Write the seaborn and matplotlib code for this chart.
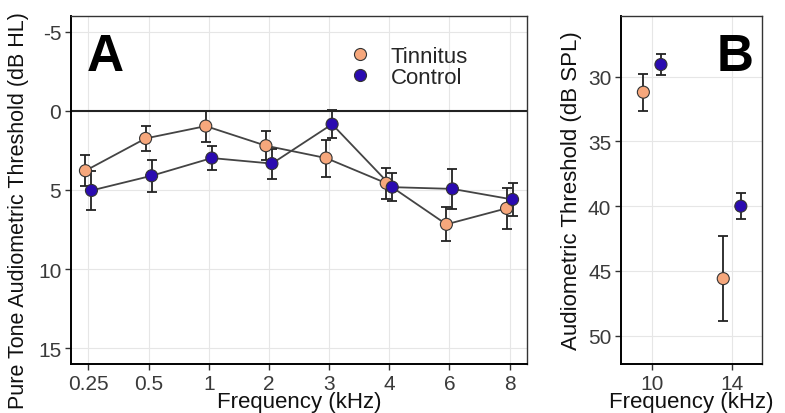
import numpy as np
import pandas as pd
import matplotlib
matplotlib.use("Agg")
import matplotlib.pyplot as plt
import seaborn as sns

# ---- data ----
freqs_a = ["0.25", "0.5", "1", "2", "3", "4", "6", "8"]
tinnitus_a = [3.78, 1.74, 0.96, 2.20, 2.98, 4.57, 7.17, 6.16]
tinnitus_a_se = [0.98, 0.80, 0.98, 0.90, 1.17, 0.97, 1.08, 1.30]
control_a = [5.03, 4.10, 2.98, 3.33, 0.84, 4.82, 4.93, 5.60]
control_a_se = [1.22, 1.00, 0.75, 0.95, 0.90, 0.88, 1.28, 1.02]

freqs_b = ["10", "14"]
tinnitus_b = [31.19, 45.60]
tinnitus_b_se = [1.44, 3.30]
control_b = [29.05, 40.00]
control_b_se = [0.80, 1.00]

groups = ["Tinnitus", "Control"]
colors = {"Tinnitus": "#F6A77C", "Control": "#2A0BB0"}

sns.set_theme(style="whitegrid")
plt.rcParams["font.family"] = ["Liberation Sans", "DejaVu Sans"]

fig = plt.figure(figsize=(7.85, 4.14), dpi=100)
axA = fig.add_axes([71 / 785, 49 / 414, 456 / 785, 348 / 414])
axB = fig.add_axes([621 / 785, 49 / 414, 141 / 785, 348 / 414])


def make_df(cats, t, tse, c, cse, dodge):
    rows = []
    for i, cat in enumerate(cats):
        rows.append(dict(cat=cat, idx=i, group="Tinnitus", mean=t[i], se=tse[i], x=i - dodge))
        rows.append(dict(cat=cat, idx=i, group="Control", mean=c[i], se=cse[i], x=i + dodge))
    return pd.DataFrame(rows)


dfA = make_df(freqs_a, tinnitus_a, tinnitus_a_se, control_a, control_a_se, 0.05)
dfB = make_df(freqs_b, tinnitus_b, tinnitus_b_se, control_b, control_b_se, 0.11)

tick_col = "#3A3A3A"


def style_axes(ax):
    ax.set_facecolor("white")
    ax.grid(True, color="#E6E6E6", linewidth=0.8)
    for s in ["top", "right"]:
        ax.spines[s].set_color("#333333")
        ax.spines[s].set_linewidth(1.0)
    for s in ["left", "bottom"]:
        ax.spines[s].set_color("black")
        ax.spines[s].set_linewidth(1.4)
    ax.tick_params(axis="both", which="major", length=4, width=1, color="#333333",
                   labelsize=15, labelcolor=tick_col, pad=3, left=True, bottom=True)


# ---- Panel A ----
style_axes(axA)
axA.axhline(0, color="#222222", linewidth=1.5, zorder=1.5)
sns.lineplot(data=dfA, x="x", y="mean", hue="group", hue_order=groups,
             palette={"Tinnitus": "#444444", "Control": "#444444"},
             linewidth=1.3, legend=False, ax=axA, zorder=2, sort=True)
for g in groups:
    d = dfA[dfA.group == g]
    axA.errorbar(d["x"], d["mean"], yerr=d["se"], fmt="none", ecolor="#222222",
                 elinewidth=1.3, capsize=3.3, capthick=1.3, zorder=3)
sns.scatterplot(data=dfA, x="x", y="mean", hue="group", hue_order=groups,
                palette=colors, s=75, edgecolor="#333333", linewidth=0.8,
                ax=axA, zorder=4)
axA.set_xlim(-0.29, 7.29)
axA.set_ylim(16.0, -6.0)
axA.set_xticks(range(len(freqs_a)))
axA.set_xticklabels(freqs_a)
axA.set_yticks([-5, 0, 5, 10, 15])
axA.set_yticklabels(["-5", "0", "5", "10", "15"])
axA.set_xlabel("Frequency (kHz)", fontsize=16, labelpad=-1, color="#111111")
axA.set_ylabel("Pure Tone Audiometric Threshold (dB HL)", fontsize=15.5,
               color="#111111")
axA.yaxis.set_label_coords(-0.092, 0.445)
h, l = axA.get_legend_handles_labels()
axA.legend(h, l, loc="upper left", bbox_to_anchor=(0.555, 0.953), frameon=False,
           fontsize=16, handletextpad=0.4, labelspacing=0.02, markerscale=1.0,
           borderaxespad=0.2)
axA.text(0.035, 0.955, "A", transform=axA.transAxes, fontsize=37,
         fontweight="bold", va="top", ha="left", color="black")

# ---- Panel B ----
style_axes(axB)
for g in groups:
    d = dfB[dfB.group == g]
    axB.errorbar(d["x"], d["mean"], yerr=d["se"], fmt="none", ecolor="#222222",
                 elinewidth=1.3, capsize=3.3, capthick=1.3, zorder=3)
sns.scatterplot(data=dfB, x="x", y="mean", hue="group", hue_order=groups,
                palette=colors, s=75, edgecolor="#333333", linewidth=0.8,
                ax=axB, zorder=4, legend=False)
axB.set_xlim(-0.39, 1.375)
axB.set_ylim(52.2, 25.3)
axB.set_xticks(range(len(freqs_b)))
axB.set_xticklabels(freqs_b)
axB.set_yticks([30, 35, 40, 45, 50])
axB.set_xlabel("Frequency (kHz)", fontsize=16, labelpad=-1, color="#111111")
axB.set_ylabel("Audiometric Threshold (dB SPL)", fontsize=16, labelpad=4,
               color="#111111")
axB.text(0.94, 0.955, "B", transform=axB.transAxes, fontsize=37,
         fontweight="bold", va="top", ha="right", color="black")

fig.savefig("out.png", dpi=100)
